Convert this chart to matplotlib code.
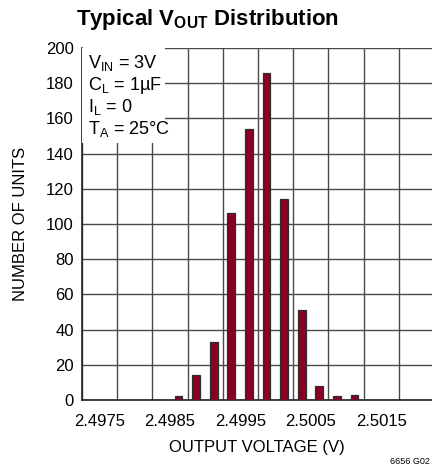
import numpy as np
import matplotlib
matplotlib.use('Agg')
import matplotlib.pyplot as plt
from matplotlib.ticker import MultipleLocator, FixedLocator

plt.rcParams['font.family'] = ['Liberation Sans', 'DejaVu Sans']
plt.rcParams['mathtext.fontset'] = 'custom'
plt.rcParams['mathtext.rm'] = 'Liberation Sans'
plt.rcParams['mathtext.it'] = 'Liberation Sans'
plt.rcParams['mathtext.bf'] = 'Liberation Sans:bold'

# data
vout = [2.49862, 2.49887, 2.49912, 2.49937, 2.49962, 2.49987,
        2.50012, 2.50037, 2.50062, 2.50087, 2.50112]
units = [2, 14, 33, 106, 154, 186, 114, 51, 8, 2, 3]
xtick_vals = [2.4975, 2.4985, 2.4995, 2.5005, 2.5015]
xtick_labels = ['2.4975', '2.4985', '2.4995', '2.5005', '2.5015']
cond_lines = [r'V$_{\mathregular{IN}}$ = 3V', r'C$_{\mathregular{L}}$ = 1µF',
              r'I$_{\mathregular{L}}$ = 0', r'T$_{\mathregular{A}}$ = 25°C']

fig = plt.figure(figsize=(4.32, 4.72), dpi=100)
ax = fig.add_axes([82/432, 72/472, 350/432, 352/472])

ax.bar(vout, units, width=0.00011, color='#8a0025', edgecolor='#2e2e2e', linewidth=0.9, zorder=3)

ax.set_xlim(2.49725, 2.502222)
ax.set_ylim(0, 200)

# grid lines sit halfway between the labelled ticks
ax.xaxis.set_minor_locator(FixedLocator(np.arange(2.49725, 2.5022, 0.0005)))
ax.set_xticks(xtick_vals)
ax.set_xticklabels(xtick_labels)
ax.yaxis.set_major_locator(MultipleLocator(20))
ax.grid(which='minor', axis='x', color='#4a4a4a', linewidth=1.0, zorder=1)
ax.grid(which='major', axis='y', color='#4a4a4a', linewidth=1.0, zorder=1)
ax.tick_params(which='both', length=0, labelsize=12)
ax.tick_params(axis='x', pad=10)
ax.tick_params(axis='y', pad=6)
for s in ['top', 'right']:
    ax.spines[s].set_visible(False)
for s in ['left', 'bottom']:
    ax.spines[s].set_color('#222222')
    ax.spines[s].set_linewidth(1.2)

ax.set_xlabel('OUTPUT VOLTAGE (V)', fontsize=12, labelpad=8)
ax.set_ylabel('NUMBER OF UNITS', fontsize=12, labelpad=13)

# white box for the test conditions
box = plt.Rectangle((0, 0.73), 0.237, 0.27, transform=ax.transAxes,
                    facecolor='white', edgecolor='none', zorder=4)
ax.add_patch(box)
for i, t in enumerate(cond_lines):
    ax.text(0.018, 0.985 - i*0.062, t, transform=ax.transAxes, fontsize=13,
            va='top', ha='left', zorder=5)

fig.text(0.48, 0.985, r'Typical V$_{\mathbf{OUT}}$ Distribution', fontsize=16,
         fontweight='bold', ha='center', va='top')
fig.text(0.995, 0.012, '6656 G02', fontsize=6.5, ha='right', va='bottom')

fig.savefig('out.png', dpi=100)
